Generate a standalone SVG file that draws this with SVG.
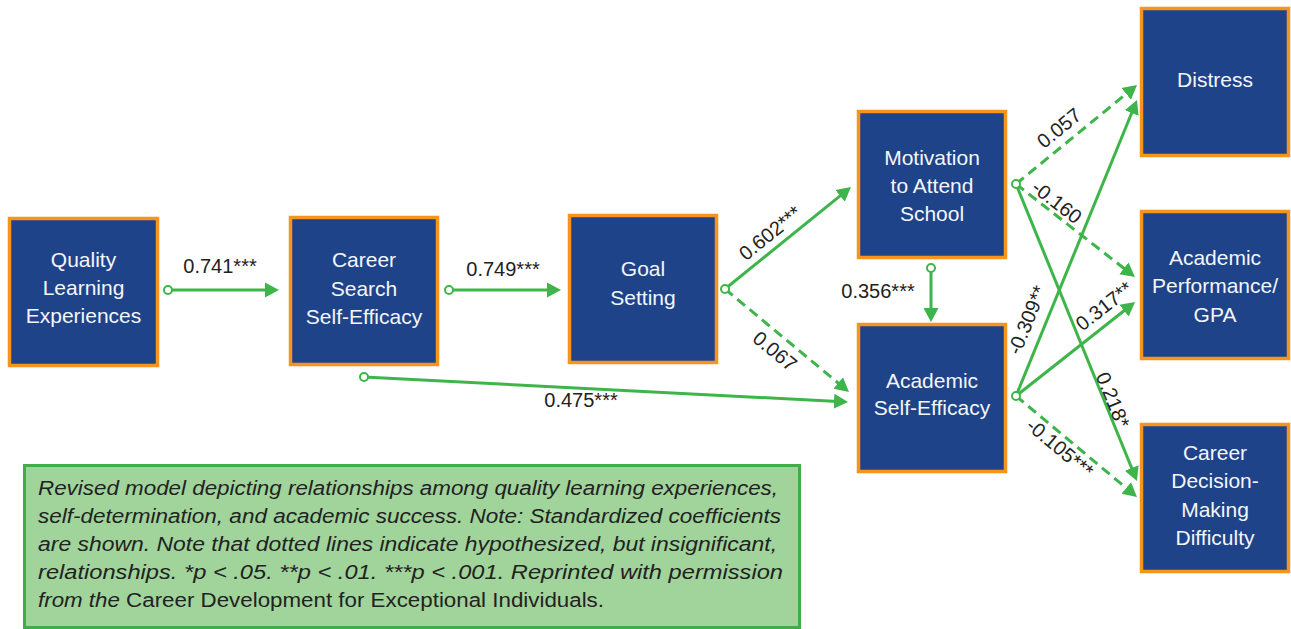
<svg xmlns="http://www.w3.org/2000/svg" width="1291" height="629" viewBox="0 0 1291 629">
<defs>
<style>
.box{fill:#1f4388;stroke:#f7941d;stroke-width:3.5}
.bt{font-family:"Liberation Sans",Arial,sans-serif;font-size:21px;fill:#f4f6fb;text-anchor:middle}
.lb{font-family:"Liberation Sans",Arial,sans-serif;font-size:20px;fill:#222;text-anchor:middle}
.ln{fill:none;stroke:#3db54a;stroke-width:3;marker-end:url(#ah)}
.ds{stroke-dasharray:10 6}
.st{fill:#fff;stroke:#3db54a;stroke-width:2}
.cap{font-family:"Liberation Sans",Arial,sans-serif;font-size:20px;fill:#222;font-style:italic}
</style>
<marker id="ah" markerUnits="userSpaceOnUse" markerWidth="14" markerHeight="16" viewBox="0 0 14 16" refX="4" refY="8" orient="auto">
<path d="M0,0.5 L14,8 L0,15.5 z" fill="#3db54a"/>
</marker>
</defs>
<rect width="1291" height="629" fill="#fff"/>

<g id="connectors">
<line class="ln" x1="168" y1="290" x2="269" y2="290"/>
<line class="ln" x1="449" y1="290" x2="551" y2="290"/>
<line class="ln" x1="725" y1="289" x2="843.2" y2="193.3"/>
<line class="ln ds" x1="725" y1="289" x2="841.3" y2="385.6"/>
<line class="ln" x1="364" y1="377" x2="838" y2="401.5"/>
<line class="ln" x1="931" y1="268" x2="931" y2="312"/>
<line class="ln ds" x1="1016" y1="184" x2="1129.3" y2="91.3"/>
<line class="ln ds" x1="1016" y1="184" x2="1127.1" y2="270.8"/>
<line class="ln" x1="1016" y1="184" x2="1133.2" y2="471.7"/>
<line class="ln" x1="1016" y1="396" x2="1133.2" y2="109.3"/>
<line class="ln" x1="1016" y1="396" x2="1127.2" y2="308.2"/>
<line class="ln ds" x1="1016" y1="396" x2="1129.3" y2="490.6"/>
<circle class="st" cx="168" cy="290" r="4"/>
<circle class="st" cx="449" cy="290" r="4"/>
<circle class="st" cx="725" cy="289" r="4"/>
<circle class="st" cx="364" cy="377" r="4"/>
<circle class="st" cx="931" cy="268" r="4"/>
<circle class="st" cx="1016" cy="184" r="4"/>
<circle class="st" cx="1016" cy="396" r="4"/>
<text class="lb" x="220" y="273">0.741***</text>
<text class="lb" x="503" y="276">0.749***</text>
<text class="lb" x="878" y="298">0.356***</text>
<text class="lb" x="581" y="407">0.475***</text>
<text class="lb" transform="translate(770,233) rotate(-39)" dy="0.35em">0.602***</text>
<text class="lb" transform="translate(775,351) rotate(39.6)" dy="0.35em">0.067</text>
<text class="lb" transform="translate(1059,128) rotate(-39.3)" dy="0.35em">0.057</text>
<text class="lb" transform="translate(1057,202) rotate(38)" dy="0.35em">-0.160</text>
<text class="lb" transform="translate(1027,320) rotate(-67.8)" dy="0.35em">-0.309**</text>
<text class="lb" transform="translate(1104,306) rotate(-38.3)" dy="0.35em">0.317**</text>
<text class="lb" transform="translate(1113,400) rotate(67.8)" dy="0.35em">0.218*</text>
<text class="lb" transform="translate(1060,448) rotate(39.8)" dy="0.35em">-0.105***</text>
</g>

<g id="quality">
<rect class="box" x="9.5" y="218.5" width="148" height="147"/>
<text class="bt" x="83.5" y="267">Quality</text>
<text class="bt" x="83.5" y="295">Learning</text>
<text class="bt" x="83.5" y="323">Experiences</text>
</g>
<g id="career-search">
<rect class="box" x="290.5" y="217.5" width="147" height="147"/>
<text class="bt" x="364" y="267">Career</text>
<text class="bt" x="364" y="296">Search</text>
<text class="bt" x="364" y="324">Self-Efficacy</text>
</g>
<g id="goal">
<rect class="box" x="569.5" y="215.5" width="147" height="147"/>
<text class="bt" x="643" y="276">Goal</text>
<text class="bt" x="643" y="305">Setting</text>
</g>
<g id="motivation">
<rect class="box" x="858.5" y="111.5" width="147" height="146"/>
<text class="bt" x="932" y="165">Motivation</text>
<text class="bt" x="932" y="193">to Attend</text>
<text class="bt" x="932" y="221">School</text>
</g>
<g id="academic-se">
<rect class="box" x="858.5" y="324.5" width="147" height="147"/>
<text class="bt" x="932" y="388">Academic</text>
<text class="bt" x="932" y="415">Self-Efficacy</text>
</g>
<g id="distress">
<rect class="box" x="1141.5" y="8.5" width="147" height="147"/>
<text class="bt" x="1215" y="87">Distress</text>
</g>
<g id="academic-performance">
<rect class="box" x="1141.5" y="211.5" width="147" height="147"/>
<text class="bt" x="1215" y="265">Academic</text>
<text class="bt" x="1215" y="293">Performance/</text>
<text class="bt" x="1215" y="322">GPA</text>
</g>
<g id="career-decision">
<rect class="box" x="1141.5" y="424.5" width="147" height="147"/>
<text class="bt" x="1215" y="460">Career</text>
<text class="bt" x="1215" y="488">Decision-</text>
<text class="bt" x="1215" y="517">Making</text>
<text class="bt" x="1215" y="545">Difficulty</text>
</g>

<g id="caption">
<rect x="24.5" y="465.5" width="775" height="162" fill="#a0d49b" stroke="#3fae49" stroke-width="3"/>
<text class="cap" x="38" y="495" textLength="740" lengthAdjust="spacingAndGlyphs">Revised model depicting relationships among quality learning experiences,</text>
<text class="cap" x="38" y="523" textLength="743" lengthAdjust="spacingAndGlyphs">self-determination, and academic success. Note: Standardized coefficients</text>
<text class="cap" x="38" y="551" textLength="739" lengthAdjust="spacingAndGlyphs">are shown. Note that dotted lines indicate hypothesized, but insignificant,</text>
<text class="cap" x="38" y="579" textLength="745" lengthAdjust="spacingAndGlyphs">relationships. *p &lt; .05. **p &lt; .01. ***p &lt; .001. Reprinted with permission</text>
<text class="cap" x="38" y="607" textLength="566" lengthAdjust="spacingAndGlyphs">from the <tspan font-style="normal">Career Development for Exceptional Individuals.</tspan></text>
</g>
</svg>
